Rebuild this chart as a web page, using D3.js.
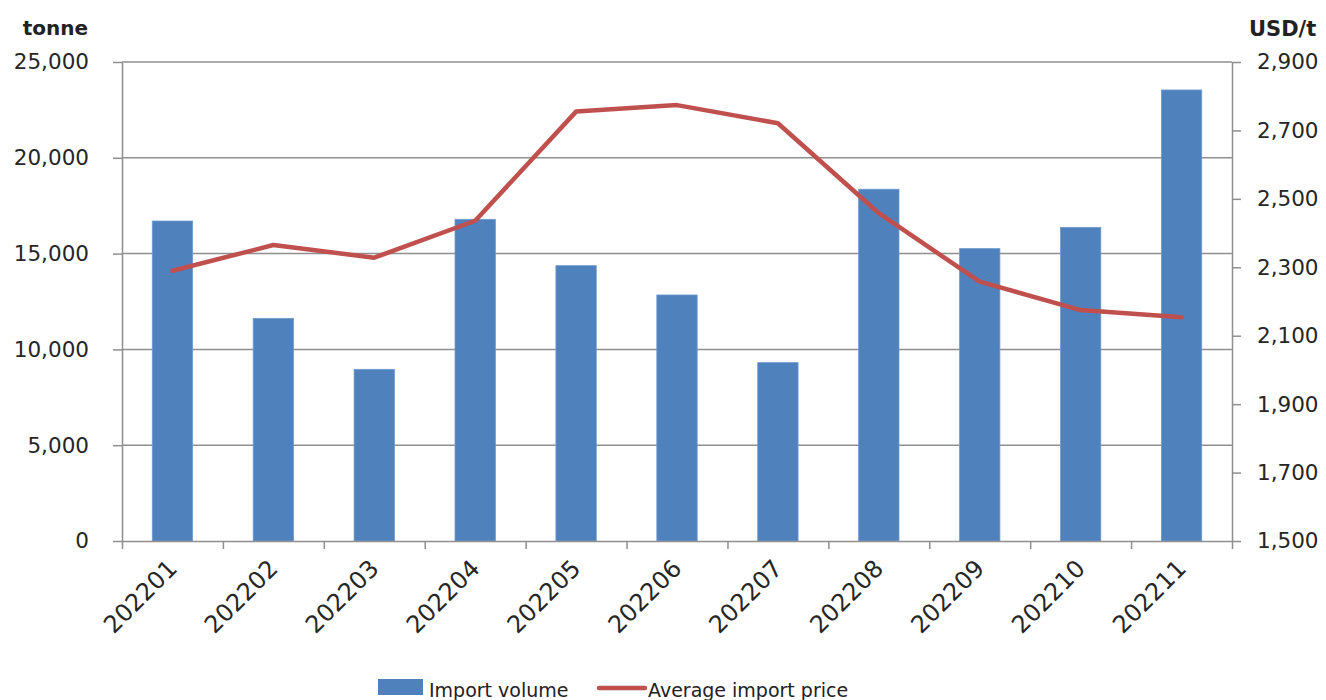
<html>
<head>
<meta charset="utf-8">
<script src="https://cdnjs.cloudflare.com/ajax/libs/d3/7.8.5/d3.min.js"></script>
<style>
  body { margin: 0; background: #fff; }
  text { font-family: "DejaVu Sans", sans-serif; fill: #222; }
  .grid line { stroke: #8f8f8f; stroke-width: 1.5; }
  .axis path, .axis line { stroke: #8f8f8f; stroke-width: 1.5; }
  .axis text { font-size: 21.5px; fill: #262626; }
</style>
</head>
<body>
<script>
  // data
  var months = ["202201","202202","202203","202204","202205","202206","202207","202208","202209","202210","202211"];
  var volume = [16700, 11620, 8960, 16790, 14370, 12840, 9310, 18360, 15260, 16370, 23540];
  var price = [2290, 2365, 2328, 2436, 2755, 2774, 2721, 2458, 2258, 2175, 2154];
  var volumeTicks = [0, 5000, 10000, 15000, 20000, 25000];
  var priceTicks = [1500, 1700, 1900, 2100, 2300, 2500, 2700, 2900];

  var width = 1326, height = 700;
  var plotLeft = 122, plotRight = 1232, plotTop = 62, plotBottom = 541;

  var svg = d3.select("body").append("svg")
      .attr("width", width)
      .attr("height", height);

  var x = d3.scaleBand().domain(months).range([plotLeft, plotRight])
      .paddingInner(0.6).paddingOuter(0.3);
  var edge = d3.scaleLinear().domain([0, months.length]).range([plotLeft, plotRight]);
  var yL = d3.scaleLinear().domain([0, 25000]).range([plotBottom, plotTop]);
  var yR = d3.scaleLinear().domain([1500, 2900]).range([plotBottom, plotTop]);

  // gridlines
  svg.append("g").attr("class", "grid")
    .selectAll("line").data(volumeTicks.slice(1)).enter().append("line")
      .attr("x1", plotLeft).attr("x2", plotRight)
      .attr("y1", d => yL(d)).attr("y2", d => yL(d));

  // bars
  svg.append("g").selectAll("rect").data(months).enter().append("rect")
      .attr("x", d => x(d))
      .attr("y", (d, i) => yL(volume[i]))
      .attr("width", x.bandwidth())
      .attr("height", (d, i) => plotBottom - yL(volume[i]))
      .attr("fill", "#4f81bd")
      .attr("stroke", "#6f9bd0")
      .attr("stroke-width", 0.8);

  // left axis
  svg.append("g").attr("class", "axis")
      .attr("transform", "translate(" + plotLeft + ",0)")
      .call(d3.axisLeft(yL).tickValues(volumeTicks).tickSize(9).tickSizeOuter(0).tickPadding(24)
        .tickFormat(d3.format(",")));

  // right axis
  svg.append("g").attr("class", "axis")
      .attr("transform", "translate(" + plotRight + ",0)")
      .call(d3.axisRight(yR).tickValues(priceTicks).tickSize(9).tickSizeOuter(0).tickPadding(16)
        .tickFormat(d3.format(",")));

  // bottom axis with ticks between categories
  svg.append("g").attr("class", "axis")
      .attr("transform", "translate(0," + plotBottom + ")")
      .call(d3.axisBottom(edge).tickValues(d3.range(months.length + 1)).tickSize(8).tickSizeOuter(0)
        .tickFormat(""));

  svg.append("g").selectAll("text").data(months).enter().append("text")
      .attr("transform", d => "translate(" + (x(d) + x.bandwidth() / 2 + 6) + "," + (plotBottom + 29) + ") rotate(-45)")
      .attr("text-anchor", "end")
      .style("font-size", "24px")
      .style("fill", "#262626")
      .text(d => d);

  // price line
  var line = d3.line()
      .x((d, i) => x(months[i]) + x.bandwidth() / 2)
      .y(d => yR(d));
  svg.append("path").datum(price)
      .attr("d", line)
      .attr("fill", "none")
      .attr("stroke", "#c0504d")
      .attr("stroke-width", 4.5)
      .attr("stroke-linejoin", "round")
      .attr("stroke-linecap", "round");

  // axis titles
  svg.append("text").attr("x", 88).attr("y", 35).attr("text-anchor", "end")
      .style("font-weight", "bold").style("font-size", "20px").text("tonne");
  svg.append("text").attr("x", 1249).attr("y", 36)
      .style("font-weight", "bold").style("font-size", "21px").text("USD/t");

  // legend
  var lg = svg.append("g");
  lg.append("rect").attr("x", 378).attr("y", 679).attr("width", 45).attr("height", 16).attr("fill", "#4f81bd");
  lg.append("text").attr("x", 429).attr("y", 697).style("font-size", "19px").text("Import volume");
  lg.append("line").attr("x1", 599).attr("x2", 645).attr("y1", 688).attr("y2", 688)
      .attr("stroke", "#c0504d").attr("stroke-width", 4.5).attr("stroke-linecap", "round");
  lg.append("text").attr("x", 648).attr("y", 697).style("font-size", "19px").text("Average import price");
</script>
</body>
</html>
